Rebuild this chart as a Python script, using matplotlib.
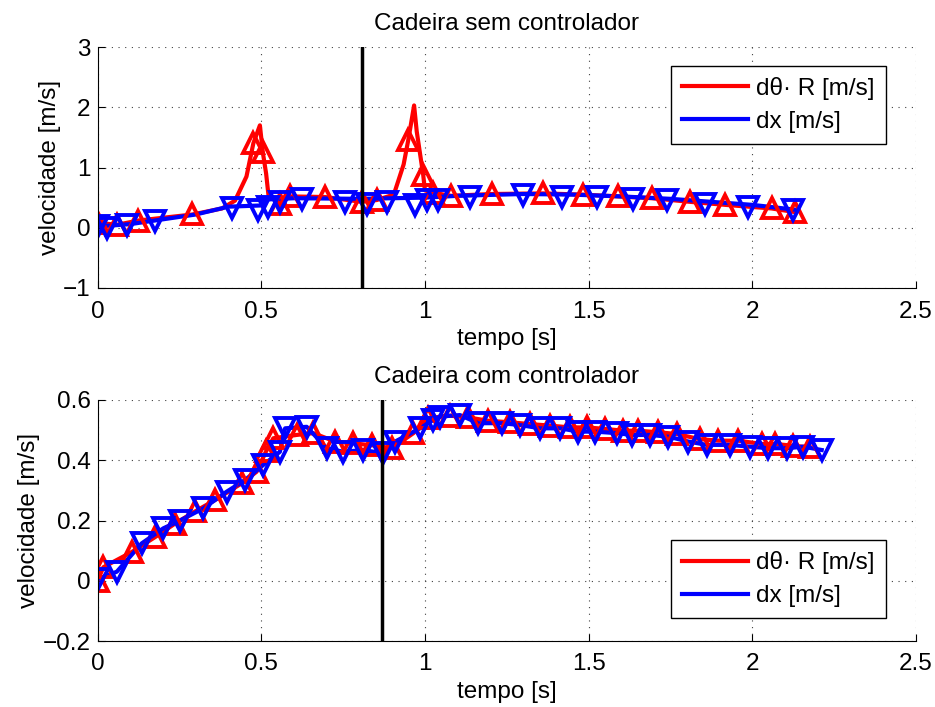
import matplotlib
matplotlib.use("Agg")
import matplotlib.pyplot as plt

plt.rcParams['font.family'] = ['Liberation Sans', 'DejaVu Sans']
plt.rcParams['font.size'] = 17.5

# top: sem controlador
t_red_top = [0.00, 0.06, 0.125, 0.29, 0.38, 0.42, 0.455, 0.476, 0.496, 0.505, 0.515,
             0.522, 0.557, 0.588, 0.695, 0.807, 0.853, 0.905, 0.935, 0.949, 0.967,
             0.975, 0.995, 1.00, 1.026, 1.08, 1.204, 1.362, 1.482, 1.591, 1.693,
             1.81, 1.917, 2.059, 2.13]
v_red_top = [0.08, 0.05, 0.12, 0.22, 0.32, 0.45, 0.85, 1.40, 1.70, 1.25, 0.90,
             0.55, 0.40, 0.52, 0.51, 0.43, 0.46, 0.55, 1.05, 1.45, 2.03,
             1.60, 0.87, 0.62, 0.58, 0.53, 0.56, 0.57, 0.55, 0.52, 0.49,
             0.43, 0.38, 0.32, 0.26]
mk_red_top = [0, 1, 2, 3, 7, 9, 12, 13, 14, 15, 16, 19, 22, 24, 25, 26, 27, 28,
              29, 30, 31, 32, 33, 34]

t_blue_top_line = [0.0, 0.1, 0.2, 0.3, 0.4, 0.5, 0.52, 0.6, 0.8, 0.9, 1.0, 1.1,
                   1.3, 1.45, 1.6, 1.75, 1.85, 2.0, 2.13]
v_blue_top_line = [0.02, 0.06, 0.14, 0.22, 0.35, 0.37, 0.47, 0.49, 0.48, 0.49,
                   0.50, 0.53, 0.56, 0.55, 0.52, 0.48, 0.44, 0.38, 0.30]
t_blue_top = [0.0, 0.028, 0.089, 0.176, 0.41, 0.491, 0.522, 0.557, 0.624, 0.756,
              0.822, 0.883, 0.97, 1.005, 1.041, 1.138, 1.30, 1.418, 1.525, 1.636,
              1.739, 1.857, 1.988, 2.125]
v_blue_top = [0.03, -0.01, 0.04, 0.12, 0.32, 0.29, 0.35, 0.43, 0.48, 0.43,
              0.40, 0.43, 0.37, 0.46, 0.46, 0.51, 0.54, 0.51, 0.51, 0.48,
              0.46, 0.40, 0.35, 0.29]

# bottom: com controlador
t_red_bot = [0.0, 0.018, 0.104, 0.176, 0.237, 0.298, 0.359, 0.44, 0.486, 0.515,
             0.537, 0.608, 0.659, 0.726, 0.781, 0.837, 0.899, 0.965, 1.01, 1.077,
             1.133, 1.194, 1.26, 1.321, 1.382, 1.443, 1.494, 1.55, 1.606, 1.652,
             1.713, 1.769, 1.84, 1.896, 1.957, 2.029, 2.07, 2.125, 2.176]
v_red_bot = [0.0, 0.045, 0.095, 0.145, 0.19, 0.23, 0.268, 0.323, 0.362, 0.43,
             0.473, 0.484, 0.49, 0.462, 0.456, 0.45, 0.44, 0.49, 0.54, 0.548,
             0.542, 0.531, 0.526, 0.52, 0.515, 0.509, 0.509, 0.504, 0.498, 0.498,
             0.493, 0.487, 0.47, 0.465, 0.465, 0.454, 0.454, 0.448, 0.443]

t_blue_bot = [0.0, 0.059, 0.135, 0.201, 0.252, 0.323, 0.395, 0.45, 0.506, 0.557,
              0.573, 0.639, 0.70, 0.751, 0.812, 0.873, 0.909, 0.985, 1.026, 1.046,
              1.107, 1.163, 1.234, 1.29, 1.352, 1.413, 1.469, 1.52, 1.586, 1.632,
              1.688, 1.744, 1.805, 1.861, 1.932, 1.993, 2.049, 2.105, 2.156, 2.212]
v_blue_bot = [0.005, 0.03, 0.124, 0.174, 0.2, 0.24, 0.296, 0.334, 0.384, 0.428,
              0.506, 0.511, 0.44, 0.428, 0.434, 0.423, 0.462, 0.506, 0.534, 0.545,
              0.55, 0.523, 0.523, 0.517, 0.506, 0.506, 0.495, 0.495, 0.49, 0.484,
              0.484, 0.478, 0.462, 0.451, 0.451, 0.445, 0.44, 0.44, 0.445, 0.434]

t_mark_top = 0.808
t_mark_bot = 0.869

xticks = [0, 0.5, 1, 1.5, 2, 2.5]
xticklabels = ['0', '0.5', '1', '1.5', '2', '2.5']
yticks_top = [-1, 0, 1, 2, 3]
yticklabels_top = ['\u22121', '0', '1', '2', '3']
yticks_bot = [-0.2, 0, 0.2, 0.4, 0.6]
yticklabels_bot = ['\u22120.2', '0', '0.2', '0.4', '0.6']

lab_red = 'd\u03b8\u00b7 R [m/s]'
lab_blue = 'dx [m/s]'

lw = 3.0
ms = 15
mew = 2.8

fig = plt.figure(figsize=(9.35, 7.07), dpi=100)
W, H = 935.0, 707.0
ax1 = fig.add_axes([97.5/W, (H-288)/H, 818.5/W, 241/H])
ax2 = fig.add_axes([97.5/W, (H-641)/H, 818.5/W, 241/H])


def style(ax, ylim, yticks, yticklabels, title):
    ax.set_xlim(0, 2.5)
    ax.set_ylim(*ylim)
    ax.set_xticks(xticks)
    ax.set_xticklabels(xticklabels)
    ax.set_yticks(yticks)
    ax.set_yticklabels(yticklabels)
    ax.grid(True, color='0.25', linestyle=(0, (1, 5)), linewidth=0.8)
    ax.spines['top'].set_visible(False)
    ax.spines['right'].set_visible(False)
    ax.tick_params(direction='in', length=5, width=0.8)
    ax.tick_params(axis='x', pad=9)
    ax.tick_params(axis='y', pad=5)
    ax.set_xlabel('tempo [s]', labelpad=4)
    ax.set_ylabel('velocidade [m/s]', labelpad=1.5)
    ax.set_title(title, fontsize=17.5, pad=12)


def add_legend(ax, loc, anchor):
    leg = ax.legend(loc=loc, bbox_to_anchor=anchor, borderaxespad=0,
                    fancybox=False, edgecolor='black', framealpha=1,
                    handlelength=2.7, handletextpad=0.35, borderpad=0.45,
                    labelspacing=0.45)
    leg.get_frame().set_linewidth(1.0)


# top
ax1.plot(t_red_top, v_red_top, '-', color='red', lw=lw, label=lab_red)
ax1.plot(t_blue_top_line, v_blue_top_line, '-', color='blue', lw=lw, label=lab_blue)
ax1.plot([t_red_top[i] for i in mk_red_top], [v_red_top[i] for i in mk_red_top],
         linestyle='none', marker='^', ms=ms, mfc='none', mec='red', mew=mew)
ax1.plot(t_blue_top, v_blue_top, linestyle='none', marker='v', ms=ms,
         mfc='none', mec='blue', mew=mew)
ax1.axvline(t_mark_top, color='black', lw=2.5)
style(ax1, (-1, 3), yticks_top, yticklabels_top, 'Cadeira sem controlador')
add_legend(ax1, 'upper right', (0.963, 0.921))

# bottom
ax2.plot(t_red_bot, v_red_bot, '-', color='red', lw=lw, label=lab_red)
ax2.plot(t_blue_bot, v_blue_bot, '-', color='blue', lw=lw, label=lab_blue)
ax2.plot(t_red_bot, v_red_bot, linestyle='none', marker='^', ms=ms,
         mfc='none', mec='red', mew=mew)
ax2.plot(t_blue_bot, v_blue_bot, linestyle='none', marker='v', ms=ms,
         mfc='none', mec='blue', mew=mew)
ax2.axvline(t_mark_bot, color='black', lw=2.5)
style(ax2, (-0.2, 0.6), yticks_bot, yticklabels_bot, 'Cadeira com controlador')
add_legend(ax2, 'lower right', (0.963, 0.095))

fig.savefig('out.png', dpi=100)
